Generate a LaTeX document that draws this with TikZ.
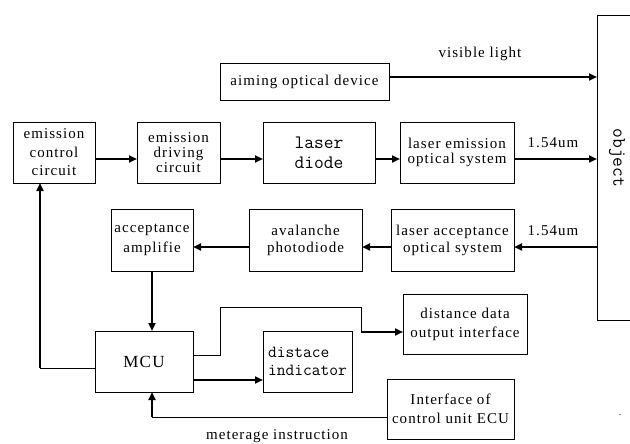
\documentclass[tikz,border=0pt]{standalone}
\usepackage{fontspec}
\setmainfont{Liberation Serif}[LetterSpace=7]
\usetikzlibrary{arrows.meta, calc}

\begin{document}
\begin{tikzpicture}[x=1pt, y=-1pt,
  blk/.style={draw, line width=0.8pt, inner sep=1pt, outer sep=0pt, align=center,
              font=\fontsize{15}{17}\selectfont},
  mono/.style={font=\ttfamily\fontsize{19}{20}\selectfont},
  lbl/.style={inner sep=0pt, font=\fontsize{15}{17}\selectfont},
  arr/.style={-{Triangle[length=8pt, width=7pt]}, line width=2pt},
  wire/.style={line width=0.8pt}
]
\useasboundingbox (0,0) rectangle (630,444);

\node[blk, minimum width=169pt, minimum height=37pt] (aim) at (304.5,81.5) {aiming optical device};
\node[blk, minimum width=82pt, minimum height=61pt, font=\fontsize{15}{18.5}\selectfont] (ecc) at (54,152.5) {emission\\control\\circuit};
\node[blk, minimum width=83pt, minimum height=61pt, font=\fontsize{15}{15}\selectfont] (edc) at (178.5,152.5) {emission\\driving\\circuit};
\node[blk, mono, minimum width=112pt, minimum height=61pt] (ld) at (319,152.5) {laser\\diode};
\node[blk, minimum width=114pt, minimum height=61pt, font=\fontsize{15}{15}\selectfont] (leos) at (457,152.5) {laser emission\\optical system};
\node[blk, minimum width=82pt, minimum height=62pt, font=\fontsize{15}{20}\selectfont] (aa) at (152,240) {acceptance\\amplifie};
\node[blk, minimum width=113pt, minimum height=62pt] (apd) at (305.5,240) {avalanche\\photodiode};
\node[blk, minimum width=123pt, minimum height=62pt] (laos) at (452.5,240) {laser acceptance\\optical system};
\node[blk, minimum width=98pt, minimum height=61pt, font=\fontsize{17}{20}\selectfont] (mcu) at (144,361.5) {MCU};
\node[blk, minimum width=124pt, minimum height=60pt, font=\fontsize{15}{19}\selectfont] (ddo) at (465,324) {distance data\\output interface};
\node[blk, minimum width=89pt, minimum height=61pt, align=left, font=\ttfamily\fontsize{17}{18}\selectfont] (di) at (307.5,361.5) {distace\\indicator};
\node[blk, minimum width=127pt, minimum height=60pt, font=\fontsize{15}{19}\selectfont] (ecu) at (450.5,409) {Interface of\\control unit ECU};

\node[minimum width=33pt, minimum height=305pt, inner sep=0pt, outer sep=0pt] (object) at (613.5,167.5) {};
\draw[wire] (object.north east) -- (object.north west) -- (object.south west) -- (object.south east);
\node[mono, rotate=-90, inner sep=0pt] (objtxt) at (617,158) {object};

\node[lbl] (vis) at (480,54) {visible light};
\node[lbl] (wl1) at (553,143) {1.54um};
\node[lbl] (wl2) at (553,231) {1.54um};
\node[lbl] (meter) at (277,436) {meterage instruction};
\node[lbl, font=\fontsize{10}{12}\selectfont] (dot) at (620,415) {.};

\draw[arr] ($(aim.east)+(0,-4.5)$) -- ($(aim.east -| object.west)+(0,-4.5)$);
\draw[arr] ($(ecc.east)+(0,6.5)$) -- ($(edc.west)+(0,6.5)$);
\draw[arr] ($(edc.east)+(0,6.5)$) -- ($(ld.west)+(0,6.5)$);
\draw[arr] ($(ld.east)+(0,6.5)$) -- ($(leos.west)+(0,6.5)$);
\draw[arr] ($(leos.east)+(0,6.5)$) -- ($(leos.east -| object.west)+(0,6.5)$);
\draw[arr] ($(laos.east -| object.west)+(0,7)$) -- ($(laos.east)+(0,7)$);
\draw[arr] ($(laos.west)+(0,7)$) -- ($(apd.east)+(0,7)$);
\draw[arr] ($(apd.west)+(0,7)$) -- ($(aa.east)+(0,7)$);
\draw[arr] (aa.south) -- (aa.south |- mcu.north);

\draw[wire] ($(mcu.west)+(0,6.5)$) -- ($(mcu.west -| ecc.south)+(-14,6.5)$) coordinate (fb);
\draw[arr] (fb) -- ($(ecc.south)+(-14,0)$);

\draw[wire] ($(mcu.east)+(0,-6.5)$) -- ++(27,0) -- ++(0,-48) -- ++(141,0) -- ++(0,25) coordinate (dd);
\draw[arr] (dd) -- (dd -| ddo.west);
\draw[arr] ($(mcu.east)+(0,18.5)$) -- ($(mcu.east -| di.west)+(0,18.5)$);

\draw[wire] ($(ecu.west)+(0,8)$) -- ($(ecu.west -| aa.south)+(0,8)$) coordinate (mi);
\draw[arr] (mi) -- (mi |- mcu.south);
\end{tikzpicture}
\end{document}
